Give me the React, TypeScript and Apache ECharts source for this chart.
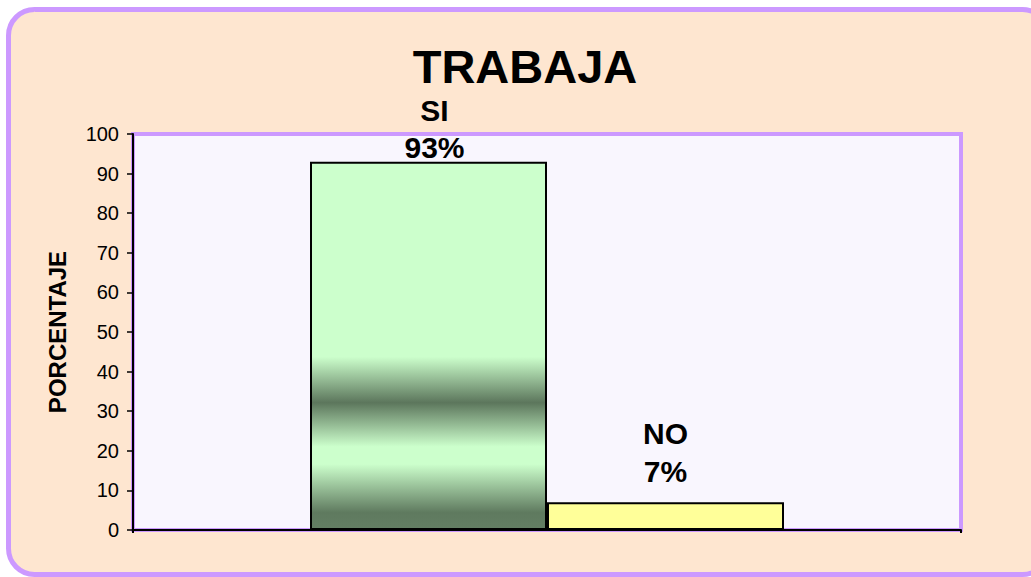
import React, { useEffect, useRef } from "react";
import * as echarts from "echarts";

const titleText = "TRABAJA";
const yAxisName = "PORCENTAJE";
const categories = [""];
const seriesNames = ["SI", "NO"];
const siValues = [93];
const noValues = [7];
const yTicks = { min: 0, max: 100, interval: 10 };

const FONT = "'Liberation Sans', Arial, Helvetica, sans-serif";

export default function App() {
  const ref = useRef<HTMLDivElement>(null);
  useEffect(() => {
    if (!ref.current) return;
    const chart = echarts.init(ref.current, null, { renderer: "svg" });
    const labelStyle = {
      show: true,
      position: "top",
      formatter: "{a}\n{c}%",
      fontSize: 30,
      fontWeight: "bold",
      lineHeight: 37,
      color: "#000",
      fontFamily: FONT,
    };
    chart.setOption({
      animation: false,
      backgroundColor: "#ffffff",
      title: {
        text: titleText,
        left: 525,
        top: 48,
        padding: 0,
        textAlign: "center",
        textStyle: { fontSize: 47, lineHeight: 36, fontWeight: "bold", color: "#000", fontFamily: FONT },
      },
      graphic: [
        {
          type: "rect",
          z: -10,
          silent: true,
          shape: { x: 8.5, y: 9.5, width: 1040, height: 565, r: 26 },
          style: { fill: "#fee6d0", stroke: "#cc99ff", lineWidth: 5 },
        },
      ],
      grid: {
        left: 133,
        top: 134,
        right: 70,
        bottom: 47,
        show: true,
        backgroundColor: "#f9f6fe",
        borderColor: "#cc99ff",
        borderWidth: 4,
      },
      xAxis: {
        type: "category",
        data: categories,
        axisLine: { show: true, lineStyle: { color: "#000", width: 2 } },
        axisTick: { show: true, length: 3, lineStyle: { color: "#000", width: 2 } },
        axisLabel: { show: false },
        z: 10,
      },
      yAxis: {
        type: "value",
        min: yTicks.min,
        max: yTicks.max,
        interval: yTicks.interval,
        name: yAxisName,
        nameLocation: "middle",
        nameRotate: 90,
        nameGap: 64,
        nameTextStyle: { fontSize: 24, fontWeight: "bold", color: "#000", fontFamily: FONT },
        axisLine: { show: true, lineStyle: { color: "#000", width: 2 } },
        axisTick: { show: true, inside: false, length: 6, lineStyle: { color: "#000", width: 1.5 } },
        axisLabel: { color: "#000", fontSize: 20, fontFamily: FONT, margin: 14 },
        splitLine: { show: false },
        z: 10,
      },
      series: [
        {
          name: seriesNames[0],
          type: "bar",
          data: siValues,
          barGap: "0%",
          barWidth: 237,
          itemStyle: {
            borderColor: "#000",
            borderWidth: 2,
            color: new echarts.graphic.LinearGradient(0, 0, 0, 1, [
              { offset: 0, color: "#ccffcc" },
              { offset: 0.53, color: "#ccffcc" },
              { offset: 0.655, color: "#5c765c" },
              { offset: 0.775, color: "#ccffcc" },
              { offset: 0.823, color: "#ccffcc" },
              { offset: 0.955, color: "#5f7a5f" },
              { offset: 1, color: "#637e63" },
            ]),
          },
          label: { ...labelStyle, offset: [6, 9] },
        },
        {
          name: seriesNames[1],
          type: "bar",
          data: noValues,
          barGap: "0%",
          barWidth: 237,
          itemStyle: { color: "#ffff99", borderColor: "#000", borderWidth: 2 },
          label: { ...labelStyle, distance: 12, lineHeight: 38 },
        },
      ],
    });
    return () => chart.dispose();
  }, []);
  return (
    <div
      ref={ref}
      style={{ position: "fixed", left: 0, top: 0, width: 1031, height: 577 }}
    />
  );
}
